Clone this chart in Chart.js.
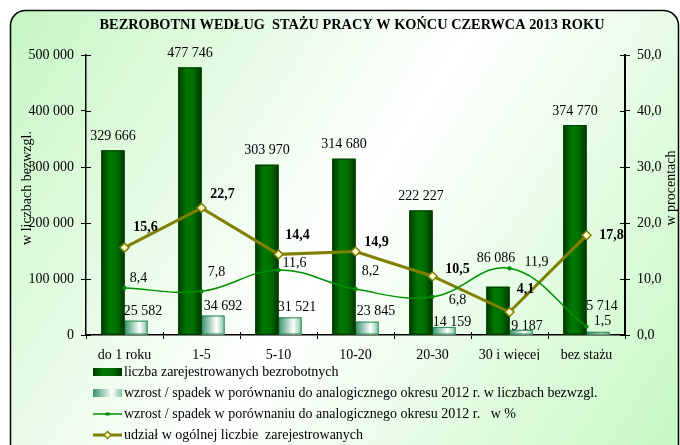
<!DOCTYPE html>
<html lang="pl">
<head>
<meta charset="utf-8">
<title>Bezrobotni według stażu pracy</title>
<script src="https://cdn.jsdelivr.net/npm/chart.js@4/dist/chart.umd.min.js"></script>
<style>
  html, body { margin: 0; padding: 0; background: #fff; }
  #wrap { width: 680px; height: 445px; }
</style>
</head>
<body>
<div id="wrap"><canvas id="chart" width="680" height="445"></canvas></div>
<script>
// dane
const kategorie = ['do 1 roku', '1-5', '5-10', '10-20', '20-30', '30 i więcej', 'bez stażu'];
const bezrobotni = [329666, 477746, 303970, 314680, 222227, 86086, 374770];
const zmianaBezwzgl = [25582, 34692, 31521, 23845, 14159, 9187, 5714];
const zmianaProc = [8.4, 7.8, 11.6, 8.2, 6.8, 11.9, 1.5];
const udzial = [15.6, 22.7, 14.4, 14.9, 10.5, 4.1, 17.8];

// przesunięcia etykiet (dx, dy) względem szczytu słupka / punktu
const przesBezrobotni = [[0, -14], [0, -14], [0, -14], [0, -14], [0, -14], [-2, -28], [0, -14]];
const przesBezwzgl = [[7, -9], [10, -9], [7, -10], [9, -10], [8, -5], [6, -4], [4, -25]];
const przesProc = [[14, -10], [15, -19], [16, -7], [15, -18], [25, 3], [27, -6], [16, -5]];
const przesUdzial = [[21, -20], [21, -13], [19, -19], [21, -9], [25, -7], [16, -23], [25, 0]];

const FONT = "'Liberation Serif', 'Times New Roman', serif";

function fmtTys(n) {
    return String(n).replace(/\B(?=(\d{3})+(?!\d))/g, ' ');
}
function fmtProc(n) {
    return n.toFixed(1).replace('.', ',');
}

// tło z zaokrąglonym obramowaniem i tytuł
const tloPlugin = {
    id: 'tlo',
    beforeDraw(chart) {
        const ctx = chart.ctx;
        ctx.save();
        const g = ctx.createLinearGradient(10, 10, 680, 445);
        g.addColorStop(0, '#c6f6c3');
        g.addColorStop(0.5, '#ffffff');
        g.addColorStop(1, '#c6f8c3');
        ctx.beginPath();
        ctx.roundRect(10.5, 10.5, 668, 450, 15);
        ctx.fillStyle = g;
        ctx.fill();
        ctx.strokeStyle = '#000';
        ctx.lineWidth = 1.5;
        ctx.stroke();

        ctx.fillStyle = '#000';
        ctx.font = 'bold 15px ' + FONT;
        ctx.textAlign = 'center';
        ctx.textBaseline = 'middle';
        ctx.fillText('BEZROBOTNI WEDŁUG  STAŻU PRACY W KOŃCU CZERWCA 2013 ROKU', 352, 25, 505);
        ctx.restore();
    }
};

// gradienty słupków
const gradientPlugin = {
    id: 'gradienty',
    afterDatasetDraw(chart, args) {
        const ds = chart.data.datasets[args.index];
        if (!ds.stopnie) return;
        const ctx = chart.ctx;
        ctx.save();
        args.meta.data.forEach(bar => {
            const p = bar.getProps(['x', 'y', 'base', 'width'], true);
            const left = p.x - p.width / 2;
            const g = ctx.createLinearGradient(left, 0, left + p.width, 0);
            ds.stopnie.forEach(s => g.addColorStop(s[0], s[1]));
            ctx.fillStyle = g;
            ctx.fillRect(left, p.y, p.width, p.base - p.y);
            ctx.strokeStyle = ds.borderColor;
            ctx.lineWidth = 1;
            ctx.strokeRect(left + 0.5, p.y + 0.5, p.width - 1, p.base - p.y - 1);
        });
        ctx.restore();
    }
};

// etykiety, tytuły osi, znaczniki osi, legenda
const opisPlugin = {
    id: 'opisy',
    afterDraw(chart) {
        const ctx = chart.ctx;
        const area = chart.chartArea;
        ctx.save();

        // znaczniki po wewnętrznej stronie osi
        ctx.strokeStyle = '#000';
        ctx.lineWidth = 1;
        const ys = chart.scales.y, y1 = chart.scales.y1, xs = chart.scales.x;
        ys.ticks.forEach(t => {
            const py = Math.round(ys.getPixelForValue(t.value)) + 0.5;
            ctx.beginPath(); ctx.moveTo(area.left, py); ctx.lineTo(area.left + 5, py); ctx.stroke();
        });
        y1.ticks.forEach(t => {
            const py = Math.round(y1.getPixelForValue(t.value)) + 0.5;
            ctx.beginPath(); ctx.moveTo(area.right - 5, py); ctx.lineTo(area.right, py); ctx.stroke();
        });
        for (let i = 1; i < kategorie.length; i++) {
            const px = Math.round((xs.getPixelForValue(i - 1) + xs.getPixelForValue(i)) / 2) + 0.5;
            ctx.beginPath(); ctx.moveTo(px, area.bottom - 3); ctx.lineTo(px, area.bottom); ctx.stroke();
        }

        // etykiety danych
        ctx.fillStyle = '#000';
        ctx.textAlign = 'center';
        ctx.textBaseline = 'middle';
        const opis = (idx, przes, fmt, font) => {
            ctx.font = font;
            const meta = chart.getDatasetMeta(idx);
            const dane = chart.data.datasets[idx].data;
            meta.data.forEach((el, i) => {
                ctx.fillText(fmt(dane[i]), el.x + przes[i][0], el.y + przes[i][1]);
            });
        };
        opis(0, przesBezrobotni, fmtTys, '14px ' + FONT);
        opis(1, przesBezwzgl, fmtTys, '14px ' + FONT);
        opis(2, przesProc, fmtProc, '14px ' + FONT);
        opis(3, przesUdzial, fmtProc, 'bold 14px ' + FONT);

        // tytuły osi
        ctx.font = '14px ' + FONT;
        ctx.save();
        ctx.translate(27, 188);
        ctx.rotate(-Math.PI / 2);
        ctx.fillText('w liczbach bezwzgl.', 0, 0);
        ctx.restore();
        ctx.save();
        ctx.translate(671, 188);
        ctx.rotate(-Math.PI / 2);
        ctx.fillText('w procentach', 0, 0);
        ctx.restore();

        // legenda
        const lx = 93, lw = 29;
        const wiersze = [372, 393, 414, 435];
        ctx.textAlign = 'left';
        chart.data.datasets.forEach((ds, i) => {
            const cy = wiersze[i];
            if (ds.stopnie) {
                const g = ctx.createLinearGradient(lx, 0, lx + lw, 0);
                ds.stopnie.forEach(s => g.addColorStop(s[0], s[1]));
                ctx.fillStyle = g;
                ctx.fillRect(lx, cy - 4, lw, 8);
            } else {
                ctx.strokeStyle = ds.borderColor;
                ctx.lineWidth = ds.borderWidth;
                ctx.beginPath(); ctx.moveTo(lx, cy); ctx.lineTo(lx + lw, cy); ctx.stroke();
                ctx.lineWidth = ds.pointBorderWidth;
                ctx.fillStyle = ds.pointBackgroundColor;
                if (ds.pointStyle === 'rectRot') {
                    const r = 3.5, cx = lx + lw / 2;
                    ctx.beginPath();
                    ctx.moveTo(cx, cy - r); ctx.lineTo(cx + r, cy); ctx.lineTo(cx, cy + r); ctx.lineTo(cx - r, cy);
                    ctx.closePath(); ctx.fill(); ctx.stroke();
                } else {
                    ctx.fillRect(lx + lw / 2 - 2, cy - 1.5, 4, 3);
                }
            }
            ctx.fillStyle = '#000';
            ctx.font = '14px ' + FONT;
            ctx.fillText(ds.label, lx + lw + 2, cy);
        });

        ctx.restore();
    }
};

const ctx = document.getElementById('chart').getContext('2d');
new Chart(ctx, {
    type: 'bar',
    data: {
        labels: kategorie,
        datasets: [{
            label: 'liczba zarejestrowanych bezrobotnych',
            data: bezrobotni,
            yAxisID: 'y',
            backgroundColor: '#006400',
            borderColor: '#003f00',
            stopnie: [[0, '#003800'], [0.35, '#007800'], [0.65, '#007000'], [1, '#003500']],
            categoryPercentage: 0.6,
            barPercentage: 1,
            order: 1
        }, {
            label: 'wzrost / spadek w porównaniu do analogicznego okresu 2012 r. w liczbach bezwzgl.',
            data: zmianaBezwzgl,
            yAxisID: 'y',
            backgroundColor: '#8fcaa8',
            borderColor: '#2e8b57',
            stopnie: [[0, '#35946a'], [0.65, '#ffffff'], [1, '#7fc3a0']],
            categoryPercentage: 0.6,
            barPercentage: 1,
            order: 1
        }, {
            type: 'line',
            label: 'wzrost / spadek w porównaniu do analogicznego okresu 2012 r.   w %',
            data: zmianaProc,
            yAxisID: 'y1',
            borderColor: '#009000',
            borderWidth: 1.5,
            tension: 0.4,
            pointStyle: 'rect',
            pointRadius: 2,
            pointBackgroundColor: '#009000',
            pointBorderColor: '#009000',
            pointBorderWidth: 1,
            order: 0
        }, {
            type: 'line',
            label: 'udział w ogólnej liczbie  zarejestrowanych',
            data: udzial,
            yAxisID: 'y1',
            borderColor: '#808000',
            borderWidth: 3,
            tension: 0,
            pointStyle: 'rectRot',
            pointRadius: 4.5,
            pointBackgroundColor: '#ffffcc',
            pointBorderColor: '#808000',
            pointBorderWidth: 1.5,
            order: 0
        }]
    },
    options: {
        responsive: false,
        animation: false,
        devicePixelRatio: 1,
        layout: { padding: { top: 55, left: 10, right: 0, bottom: 85 } },
        plugins: {
            legend: { display: false },
            title: { display: false },
            tooltip: { enabled: false }
        },
        scales: {
            x: {
                offset: true,
                grid: { offset: true, drawOnChartArea: false, tickLength: 4, color: '#000', lineWidth: 1 },
                border: { display: true, color: '#000', width: 1.5 },
                ticks: { color: '#000', font: { family: FONT, size: 14 }, padding: 8, maxRotation: 0 },
                afterFit: s => { s.height = 25; }
            },
            y: {
                position: 'left',
                min: 0,
                max: 500000,
                grid: { drawOnChartArea: false, tickLength: 5, color: '#000', lineWidth: 1 },
                border: { display: true, color: '#000', width: 1.5 },
                ticks: { stepSize: 100000, color: '#000', font: { family: FONT, size: 14 }, padding: 7, callback: v => fmtTys(v) },
                afterFit: s => { s.width = 76; }
            },
            y1: {
                position: 'right',
                min: 0,
                max: 50,
                grid: { drawOnChartArea: false, tickLength: 5, color: '#000', lineWidth: 1 },
                border: { display: true, color: '#000', width: 2 },
                ticks: { stepSize: 10, color: '#000', font: { family: FONT, size: 14 }, padding: 7, callback: v => fmtProc(v) },
                afterFit: s => { s.width = 55; }
            }
        }
    },
    plugins: [tloPlugin, gradientPlugin, opisPlugin]
});
</script>
</body>
</html>
